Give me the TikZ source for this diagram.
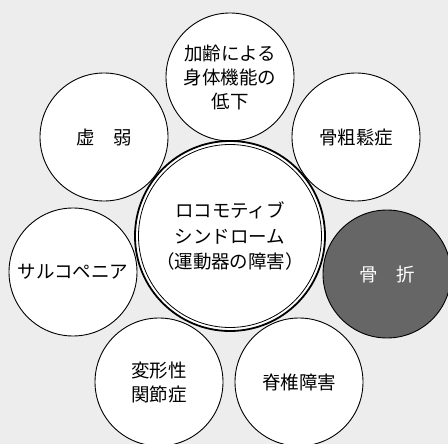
\documentclass[tikz,border=0pt]{standalone}
\usepackage{fontspec}
\setmainfont{Noto Sans CJK JP}
\usepackage{tikz}
\usetikzlibrary{positioning}

\begin{document}
\begin{tikzpicture}[x=1pt, y=-1pt,
    cause/.style={circle, draw, line width=0.9pt, fill=white, minimum size=128pt, inner sep=0pt,
                  align=center, font=\fontsize{18.5}{24}\selectfont},
    hit/.style={cause, fill=black!60, text=white},
    core/.style={circle, draw, line width=1.8pt, fill=white, minimum size=190pt,
                 inner sep=0pt, align=center, font=\fontsize{18.5}{25.5}\selectfont}]
    % page
    \useasboundingbox (0,0) rectangle (448,444);
    \clip (0,0) rectangle (448,444);
    \fill[black!7] (0,0) rectangle (448,444);

    % outer ring
    \node[cause] (aging)  at (230,77)  {加齢による\\身体機能の\\低下};
    \node[cause] (frail)  at (104,137) {虚　弱};
    \node[cause] (osteo)  at (356,137) {骨粗鬆症};
    \node[cause] (sarco)  at (73,272)  {サルコペニア};
    \node[hit]   (fract)  at (387,274) {骨　折};
    \node[cause] (knee)   at (159,382) {変形性\\関節症};
    \node[cause] (spine)  at (299,382) {脊椎障害};

    % centre
    \node[core] (locomo) at (230,236) {ロコモティブ\\シンドローム\\（運動器の障害）};
    \draw[line width=0.8pt] (locomo.center) circle[radius=91.5pt];
\end{tikzpicture}
\end{document}
